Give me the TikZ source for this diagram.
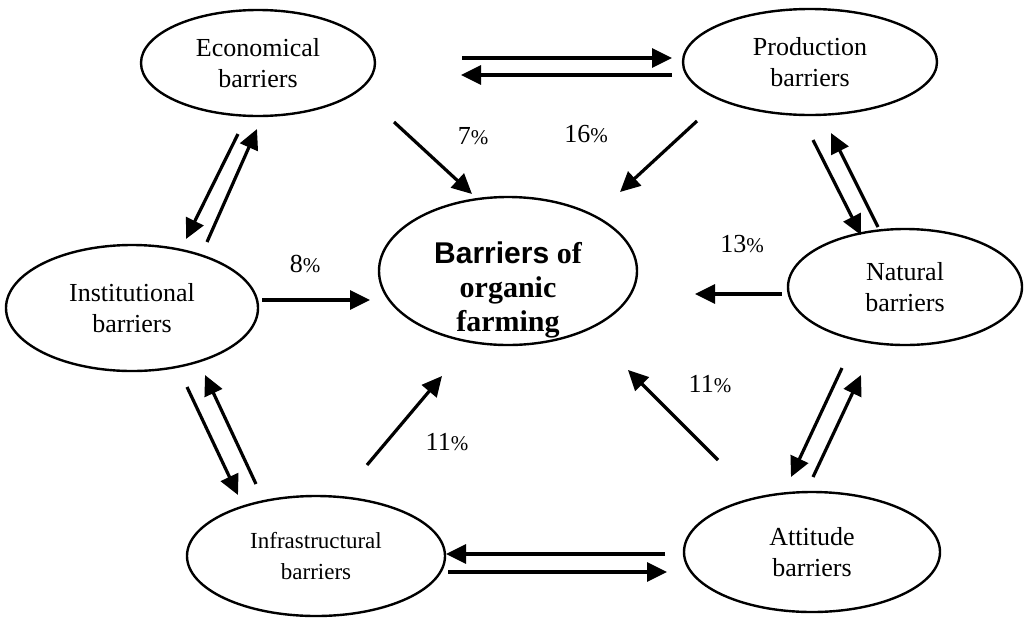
\documentclass[tikz,border=0pt]{standalone}
\usepackage{fontspec}
\setmainfont{Liberation Serif}
\newfontfamily\arialbold{Liberation Sans}[BoldFont=* Bold]
\usetikzlibrary{arrows.meta,shapes.geometric}
\begin{document}
\begin{tikzpicture}[x=1pt,y=-1pt,
  barrier/.style={draw,line width=2.4pt,ellipse,minimum width=#1,inner sep=0pt,align=center},
  link/.style={line width=3.2pt,-{Triangle[length=20pt,width=19pt]}},
  pct/.style={inner sep=0pt,anchor=base},
  lbl/.style={font=\fontsize{26}{31}\selectfont}]
\useasboundingbox (0,0) rectangle (1024,619);

% the seven barrier groups
\node[barrier=234pt,minimum height=106pt,lbl] (eco) at (258,63) {Economical\\barriers};
\node[barrier=254pt,minimum height=106pt,lbl] (prod) at (810,62) {Production\\barriers};
\node[barrier=234pt,minimum height=116pt,lbl] (nat) at (905,287) {Natural\\barriers};
\node[barrier=252pt,minimum height=126pt,lbl] (inst) at (132,308) {Institutional\\barriers};
\node[barrier=258pt,minimum height=148pt] (core) at (508,271) {};
\node[align=center,inner sep=0pt,font=\bfseries\fontsize{30}{34}\selectfont] (coretext) at ([yshift=-19pt]core.center)
  {{\arialbold\bfseries Barriers} of\\organic\\farming};
\node[barrier=258pt,minimum height=120pt,font=\fontsize{23}{31}\selectfont] (infra) at (316,556) {Infrastructural\\barriers};
\node[barrier=256pt,minimum height=120pt,lbl] (att) at (812,552) {Attitude\\barriers};

% arrow end points
\coordinate (a1s) at (462,58);  \coordinate (a1e) at (672,58);
\coordinate (a2s) at (672,75);  \coordinate (a2e) at (461,75);
\coordinate (b1s) at (665,554); \coordinate (b1e) at (446,554);
\coordinate (b2s) at (448,572); \coordinate (b2e) at (667,572);
\coordinate (c1s) at (238,134); \coordinate (c1e) at (186,239);
\coordinate (c2s) at (207,242); \coordinate (c2e) at (257,129);
\coordinate (d1s) at (187,387); \coordinate (d1e) at (238,495);
\coordinate (d2s) at (256,484); \coordinate (d2e) at (205,375);
\coordinate (e1s) at (813,140); \coordinate (e1e) at (861,235);
\coordinate (e2s) at (878,227); \coordinate (e2e) at (831,133);
\coordinate (f1s) at (842,368); \coordinate (f1e) at (791,477);
\coordinate (f2s) at (813,477); \coordinate (f2e) at (861,375);
\coordinate (g1s) at (394,122); \coordinate (g1e) at (472,194);
\coordinate (g2s) at (697,121); \coordinate (g2e) at (620,192);
\coordinate (g3s) at (262,300); \coordinate (g3e) at (370,300);
\coordinate (g4s) at (782,294); \coordinate (g4e) at (695,294);
\coordinate (g5s) at (367,465); \coordinate (g5e) at (442,376);
\coordinate (g6s) at (718,460); \coordinate (g6e) at (628,370);

% mutual links between neighbouring groups
\draw[link] (a1s) -- (a1e);
\draw[link] (a2s) -- (a2e);
\draw[link] (b1s) -- (b1e);
\draw[link] (b2s) -- (b2e);
\draw[link] (c1s) -- (c1e);
\draw[link] (c2s) -- (c2e);
\draw[link] (d1s) -- (d1e);
\draw[link] (d2s) -- (d2e);
\draw[link] (e1s) -- (e1e);
\draw[link] (e2s) -- (e2e);
\draw[link] (f1s) -- (f1e);
\draw[link] (f2s) -- (f2e);

% links into the central node
\draw[link] (g1s) -- (g1e);
\draw[link] (g2s) -- (g2e);
\draw[link] (g3s) -- (g3e);
\draw[link] (g4s) -- (g4e);
\draw[link] (g5s) -- (g5e);
\draw[link] (g6s) -- (g6e);

% shares
\newcommand\share[1]{{\fontsize{26}{30}\selectfont #1}{\fontsize{21}{24}\selectfont\%}}
\node[pct] (p7)  at (473,144) {\share{7}};
\node[pct] (p16) at (586,142) {\share{16}};
\node[pct] (p8)  at (305,272) {\share{8}};
\node[pct] (p13) at (742,252) {\share{13}};
\node[pct] (p11a) at (447,450) {\share{11}};
\node[pct] (p11b) at (710,392) {\share{11}};
\end{tikzpicture}
\end{document}
